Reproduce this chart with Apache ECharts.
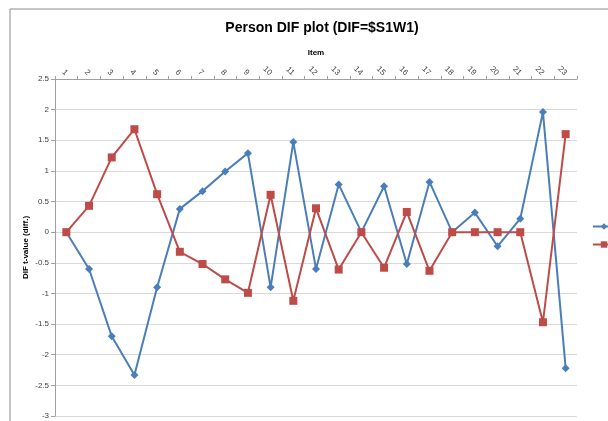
<!DOCTYPE html>
<html>
<head>
<meta charset="utf-8">
<script src="https://cdn.jsdelivr.net/npm/echarts@6/dist/echarts.min.js"></script>
<style>
  html, body { margin: 0; padding: 0; background: #fff; }
  #chart { width: 608px; height: 421px; }
</style>
</head>
<body>
<div id="chart"></div>
<script>
// items along the top axis
const items = ['1','2','3','4','5','6','7','8','9','10','11','12','13','14','15','16','17','18','19','20','21','22','23'];

// DIF t-values per group
const group1 = [0, -0.6, -1.7, -2.33, -0.9, 0.38, 0.67, 0.99, 1.29, -0.9, 1.47, -0.6, 0.78, 0, 0.75, -0.52, 0.82, 0, 0.32, -0.23, 0.22, 1.96, -2.22];
const group2 = [0, 0.43, 1.22, 1.68, 0.62, -0.32, -0.52, -0.77, -0.99, 0.61, -1.12, 0.39, -0.61, 0, -0.58, 0.33, -0.63, 0, 0, 0, 0, -1.47, 1.6];

const seriesNames = ['1', '2'];

const chart = echarts.init(document.getElementById('chart'));

chart.setOption({
    animation: false,
    textStyle: { fontFamily: 'Liberation Sans, Arial, sans-serif' },
    graphic: [
        {
            type: 'rect',
            shape: { x: 10, y: 9, width: 700, height: 500 },
            style: { fill: 'none', stroke: '#8a8a8a', lineWidth: 1 },
            silent: true
        },
        {
            type: 'text',
            x: 322,
            y: 28,
            style: {
                text: 'Person DIF plot (DIF=$S1W1)',
                font: 'bold 14px "Liberation Sans", Arial, sans-serif',
                fill: '#000',
                align: 'center',
                verticalAlign: 'middle'
            }
        }
    ],
    grid: { left: 55, right: 31, top: 79, bottom: 5 },
    legend: {
        orient: 'vertical',
        left: 587,
        top: 217,
        itemWidth: 22,
        itemHeight: 8,
        itemGap: 9,
        textStyle: { fontSize: 9, color: '#404040' },
        data: seriesNames
    },
    xAxis: {
        type: 'category',
        position: 'top',
        data: items,
        name: 'Item',
        nameLocation: 'middle',
        nameGap: 22,
        nameMoveOverlap: false,
        nameTextStyle: { fontSize: 8, fontWeight: 'bold', color: '#000' },
        axisLine: { onZero: false, lineStyle: { color: '#a0a0a0' } },
        axisTick: { show: true, length: 3, lineStyle: { color: '#a0a0a0' } },
        axisLabel: { rotate: 45, fontSize: 8, color: '#404040', margin: 5, interval: 0 }
    },
    yAxis: {
        type: 'value',
        min: -3,
        max: 2.5,
        interval: 0.5,
        name: 'DIF t-value (diff.)',
        nameLocation: 'middle',
        nameGap: 25,
        nameMoveOverlap: false,
        nameTextStyle: { fontSize: 8, fontWeight: 'bold', color: '#000' },
        axisLine: { show: true, lineStyle: { color: '#a0a0a0' } },
        axisTick: { show: true, length: 4, lineStyle: { color: '#a0a0a0' } },
        axisLabel: { fontSize: 8, color: '#404040', margin: 6 },
        splitLine: { lineStyle: { color: '#d9d9d9', width: 1 } }
    },
    series: [
        {
            name: seriesNames[0],
            type: 'line',
            data: group1,
            symbol: 'diamond',
            symbolSize: 8,
            lineStyle: { color: '#4a7ebb', width: 2 },
            itemStyle: { color: '#4a7ebb' }
        },
        {
            name: seriesNames[1],
            type: 'line',
            data: group2,
            symbol: 'rect',
            symbolSize: 8,
            lineStyle: { color: '#be4b48', width: 2 },
            itemStyle: { color: '#be4b48' }
        }
    ]
});
</script>
</body>
</html>
